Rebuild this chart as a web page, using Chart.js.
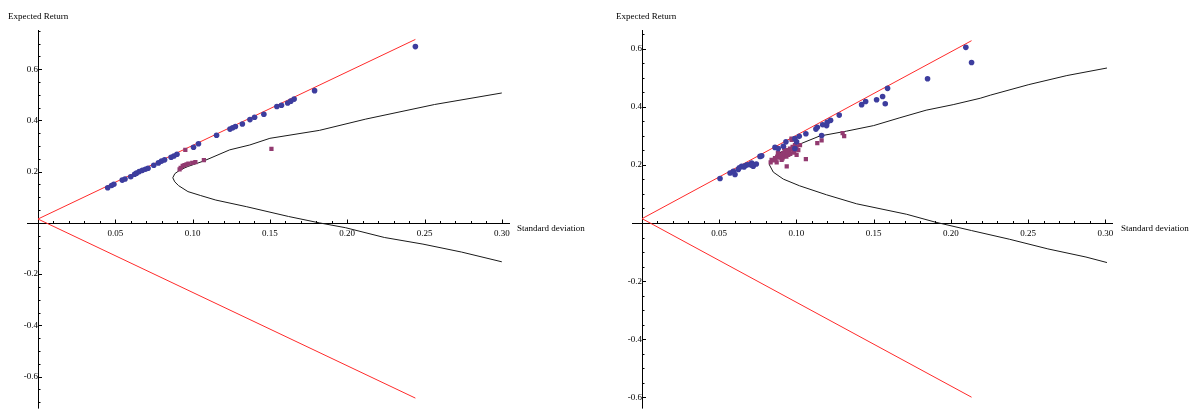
<!DOCTYPE html>
<html><head><meta charset="utf-8">
<script src="https://cdn.jsdelivr.net/npm/chart.js@4"></script>
<style>
body{margin:0;background:#fff;width:1189px;height:419px;overflow:hidden;position:relative;font-family:"Liberation Serif","DejaVu Serif",serif;}
canvas{position:absolute;top:0;}
.lbl{position:absolute;font-size:9px;color:#000;white-space:nowrap;line-height:10px;}
</style></head><body>
<canvas id="c1" width="590" height="419" style="left:0"></canvas>
<canvas id="c2" width="599" height="419" style="left:590px"></canvas>
<div class="lbl" style="left:8px;top:11px">Expected Return</div>
<div class="lbl" style="left:517px;top:223px">Standard deviation</div>
<div class="lbl" style="left:616px;top:11px">Expected Return</div>
<div class="lbl" style="left:1121px;top:223px">Standard deviation</div>
<script>
// ---------- data (sigma, expected return) ----------
const xTickValues = [0.05, 0.10, 0.15, 0.20, 0.25, 0.30];
const xTickLabels = ["0.05", "0.10", "0.15", "0.20", "0.25", "0.30"];
const yTickValues = [-0.6, -0.4, -0.2, 0.2, 0.4, 0.6];
const yTickLabels = ["-0.6", "-0.4", "-0.2", "0.2", "0.4", "0.6"];

// Left panel
const leftUpperCML = [[0, 0.015], [0.2441, 0.716]];
const leftLowerCML = [[0, 0.015], [0.2441, -0.684]];
const leftFrontier = [[0.300,-0.152],[0.274,-0.114],[0.249,-0.083],[0.224,-0.057],[0.199,-0.019],[0.182,0.000],[0.162,0.025],[0.135,0.063],[0.115,0.089],[0.105,0.107],[0.097,0.122],[0.091,0.145],[0.0885,0.160],[0.0872,0.176],[0.0885,0.192],[0.092,0.207],[0.097,0.220],[0.107,0.241],[0.124,0.285],[0.137,0.304],[0.150,0.330],[0.182,0.361],[0.212,0.405],[0.2565,0.462],[0.300,0.507]];
const leftBlue = [[0.0451,0.137],[0.0476,0.146],[0.0491,0.151],[0.0545,0.167],[0.0563,0.171],[0.0600,0.180],[0.0625,0.190],[0.0637,0.194],[0.0655,0.200],[0.0675,0.205],[0.0695,0.209],[0.0712,0.213],[0.0749,0.225],[0.0779,0.234],[0.0799,0.241],[0.0819,0.246],[0.0861,0.256],[0.0879,0.261],[0.0899,0.268],[0.1006,0.295],[0.1038,0.309],[0.1155,0.342],[0.1242,0.366],[0.1259,0.371],[0.1277,0.376],[0.1322,0.386],[0.1371,0.403],[0.1401,0.412],[0.1461,0.424],[0.1545,0.454],[0.1575,0.459],[0.1615,0.468],[0.1635,0.475],[0.1657,0.483],[0.1789,0.516],[0.2441,0.688]];
const leftMagenta = [[0.0916,0.209],[0.0923,0.215],[0.0936,0.222],[0.0948,0.225],[0.0961,0.228],[0.0973,0.231],[0.0998,0.234],[0.1018,0.237],[0.1073,0.245],[0.0953,0.285],[0.1510,0.289]];

// Right panel
const rightUpperCML = [[0, 0.015], [0.2134, 0.627]];
const rightLowerCML = [[0, 0.015], [0.2134, -0.599]];
const rightFrontier = [[0.3011,-0.136],[0.2875,-0.117],[0.2628,-0.089],[0.2381,-0.056],[0.2134,-0.026],[0.1899,0.003],[0.1714,0.030],[0.139,0.066],[0.1195,0.097],[0.102,0.128],[0.0915,0.151],[0.085,0.175],[0.0825,0.200],[0.085,0.225],[0.0915,0.249],[0.102,0.271],[0.115,0.299],[0.1325,0.316],[0.150,0.335],[0.167,0.362],[0.184,0.388],[0.2015,0.407],[0.219,0.429],[0.2258,0.440],[0.2505,0.476],[0.2751,0.507],[0.3011,0.533]];
const rightBlue = [[0.0505,0.153],[0.0591,0.178],[0.0602,0.167],[0.0623,0.184],[0.0645,0.195],[0.0667,0.197],[0.0699,0.201],[0.0710,0.206],[0.0720,0.195],[0.063,0.190],[0.068,0.200],[0.074,0.203],[0.057,0.172],[0.066,0.193],[0.071,0.199],[0.0764,0.229],[0.0775,0.231],[0.0861,0.260],[0.0882,0.256],[0.0915,0.264],[0.0932,0.279],[0.0990,0.290],[0.1001,0.279],[0.1018,0.298],[0.0990,0.256],[0.1061,0.307],[0.1126,0.323],[0.1135,0.329],[0.1163,0.301],[0.1170,0.338],[0.1195,0.335],[0.1199,0.346],[0.1221,0.353],[0.1277,0.371],[0.1422,0.407],[0.1448,0.418],[0.1519,0.424],[0.1558,0.435],[0.1575,0.410],[0.1590,0.463],[0.1849,0.496],[0.2134,0.552],[0.2097,0.604]];
const rightMagenta = [[0.0833,0.2085],[0.0839,0.2175],[0.0861,0.223],[0.0876,0.2285],[0.0893,0.234],[0.0911,0.240],[0.0926,0.245],[0.0940,0.251],[0.0958,0.256],[0.0975,0.262],[0.0990,0.268],[0.0969,0.286],[0.0904,0.2175],[0.0872,0.2085],[0.0937,0.195],[0.1001,0.234],[0.1012,0.251],[0.1061,0.2195],[0.1023,0.268],[0.1135,0.275],[0.1163,0.284],[0.1299,0.309],[0.1309,0.299],[0.0915,0.2285],[0.0947,0.234],[0.0997,0.262],[0.0968,0.290],[0.0880,0.240],[0.0920,0.258],[0.0950,0.245],[0.0985,0.250],[0.085,0.215],[0.0865,0.220],[0.089,0.225],[0.090,0.232],[0.0925,0.238],[0.094,0.242],[0.0955,0.248],[0.097,0.252],[0.098,0.258],[0.0935,0.228],[0.096,0.238],[0.091,0.222],[0.0985,0.242],[0.100,0.258]];

// ---------- rendering ----------
const pts = a => a.map(p => ({x: p[0], y: p[1]}));
const FONT = {family: "'Liberation Serif','DejaVu Serif',serif", size: 9};

const axesPlugin = {
  id: 'mmaAxes',
  beforeDatasetsDraw(chart) {
    const {ctx, chartArea: a, scales: {x, y}} = chart;
    const x0 = Math.round(x.getPixelForValue(0)) + 0.5;
    const y0 = Math.round(y.getPixelForValue(0)) + 0.5;
    ctx.save();
    ctx.strokeStyle = '#000';
    ctx.lineWidth = 1;
    ctx.beginPath();
    ctx.moveTo(a.left, y0); ctx.lineTo(a.right, y0);
    ctx.moveTo(x0, a.top); ctx.lineTo(x0, a.bottom);
    for (let i = 1; i <= 30; i++) {
      const px = Math.round(x.getPixelForValue(i * 0.01)) + 0.5;
      const len = (i % 5 === 0) ? 4 : 2.5;
      ctx.moveTo(px, y0); ctx.lineTo(px, y0 - len);
    }
    for (let j = -16; j <= 16; j++) {
      if (j === 0) continue;
      const v = j * 0.05;
      if (v < y.min || v > y.max) continue;
      const py = Math.round(y.getPixelForValue(v)) + 0.5;
      const len = (j % 4 === 0) ? 3.5 : 2;
      ctx.moveTo(x0, py); ctx.lineTo(x0 + len, py);
    }
    ctx.stroke();
    ctx.restore();
  }
};

function makeChart(id, p) {
  new Chart(document.getElementById(id), {
    type: 'scatter',
    data: {
      datasets: [
        {data: pts(p.blue), pointStyle: 'circle', pointRadius: 2.8, backgroundColor: '#3d3d9e', borderWidth: 0, showLine: false},
        {data: pts(p.magenta), pointStyle: 'rect', pointRadius: 3, backgroundColor: '#923a70', borderWidth: 0, showLine: false},
        {data: pts(p.up), showLine: true, pointRadius: 0, borderColor: '#ff2a2a', borderWidth: 1},
        {data: pts(p.low), showLine: true, pointRadius: 0, borderColor: '#ff2a2a', borderWidth: 1},
        {data: pts(p.frontier), showLine: true, pointRadius: 0, borderColor: '#1a1a1a', borderWidth: 1, tension: 0}
      ]
    },
    options: {
      responsive: false,
      animation: false,
      devicePixelRatio: 1,
      layout: {padding: p.pad},
      plugins: {legend: {display: false}, tooltip: {enabled: false}, title: {display: false}},
      scales: {
        x: {
          type: 'linear', min: p.xMin, max: p.xMax, position: {y: 0},
          grid: {display: false, drawTicks: false},
          border: {display: false},
          afterBuildTicks: s => { s.ticks = xTickValues.map(v => ({value: v})); },
          ticks: {autoSkip: false, maxRotation: 0, padding: 5, color: '#000', font: FONT,
                  callback: (v, i) => xTickLabels[i]}
        },
        y: {
          type: 'linear', min: p.yMin, max: p.yMax, position: {x: 0},
          grid: {display: false, drawTicks: false},
          border: {display: false},
          afterBuildTicks: s => { s.ticks = yTickValues.map(v => ({value: v})); },
          ticks: {autoSkip: false, padding: 5, color: '#000', font: FONT,
                  callback: (v, i) => yTickLabels[i]}
        }
      }
    },
    plugins: [axesPlugin]
  });
}

makeChart('c1', {
  blue: leftBlue, magenta: leftMagenta, up: leftUpperCML, low: leftLowerCML, frontier: leftFrontier,
  pad: {left: 27, right: 80, top: 30, bottom: 0},
  xMin: -0.0071, xMax: 0.3053, yMin: -0.725, yMax: 0.7528
});
makeChart('c2', {
  blue: rightBlue, magenta: rightMagenta, up: rightUpperCML, low: rightLowerCML, frontier: rightFrontier,
  pad: {left: 42, right: 76, top: 30, bottom: 0},
  xMin: -0.0065, xMax: 0.305, yMin: -0.6382, yMax: 0.6637
});
</script>
</body></html>
